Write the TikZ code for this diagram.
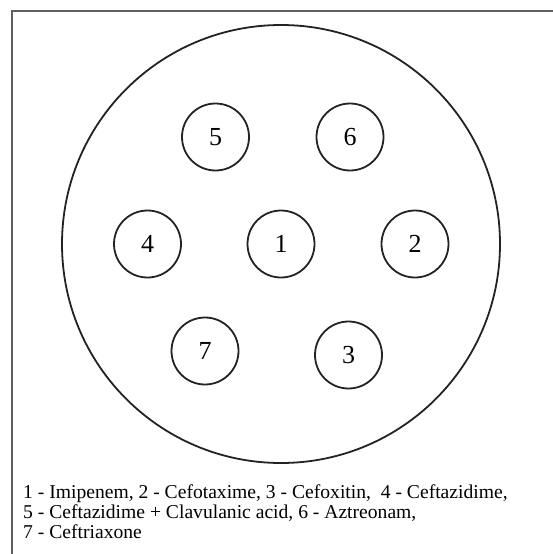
\documentclass[tikz,border=0pt]{standalone}
\usepackage{fontspec}
\setmainfont{Liberation Serif}
\definecolor{framegray}{RGB}{95,95,95}
\definecolor{inkc}{RGB}{35,35,35}
\begin{document}
\begin{tikzpicture}[x=1pt,y=-1pt,
  disc/.style={circle,draw=inkc,line width=1.8pt,minimum size=67pt,inner sep=0pt,
    font=\fontsize{26}{26}\selectfont},
  plate/.style={circle,draw=inkc,line width=1.8pt,minimum size=438pt,inner sep=0pt},
  legend/.style={anchor=base west,inner sep=0pt,font=\fontsize{19.6}{20}\selectfont}]
\useasboundingbox (0,0) rectangle (552,554);
\fill[white] (0,0) rectangle (552,554);
\draw[framegray,line width=1.8pt] (12,560) -- (12,11) -- (560,11);
\node[plate] (plate) at (281,244) {};
\node[disc] (d5) at (215.5,137) {5};
\node[disc] (d6) at (350,137) {6};
\node[disc] (d4) at (147.5,244) {4};
\node[disc] (d1) at (281,244) {1};
\node[disc] (d2) at (415,244) {2};
\node[disc] (d7) at (205,351) {7};
\node[disc] (d3) at (348.5,355) {3};
\node[legend] (l1) at (23,498) {1 - Imipenem, 2 - Cefotaxime, 3 - Cefoxitin,\ \ 4 - Ceftazidime,};
\node[legend] (l2) at (23,518) {5 - Ceftazidime + Clavulanic acid, 6 - Aztreonam,};
\node[legend] (l3) at (23,538) {7 - Ceftriaxone};
\end{tikzpicture}
\end{document}
